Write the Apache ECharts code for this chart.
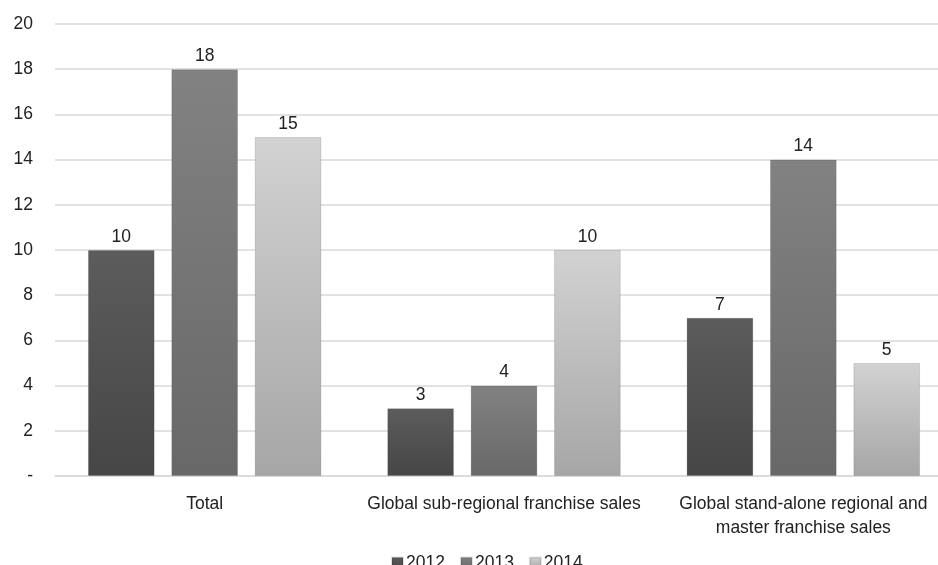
<!DOCTYPE html>
<html>
<head>
<meta charset="utf-8">
<script src="https://cdn.jsdelivr.net/npm/echarts@6/dist/echarts.min.js"></script>
<style>
html,body{margin:0;padding:0;background:#fff;}
#chart{width:938px;height:565px;}
</style>
</head>
<body>
<div id="chart"></div>
<script>
const categories = ["Total", "Global sub-regional franchise sales", "Global stand-alone regional and\nmaster franchise sales"];
const seriesNames = ["2012", "2013", "2014"];
const values2012 = [10, 3, 7];
const values2013 = [18, 4, 14];
const values2014 = [15, 10, 5];

const FONT = "Liberation Sans, Arial, sans-serif";
const FS = 17.5;
const grads = [
  ["#5c5c5c", "#464646"],
  ["#828282", "#686868"],
  ["#d2d2d2", "#a6a6a6"]
];
function grad(c) {
  return new echarts.graphic.LinearGradient(0, 0, 0, 1, [
    {offset: 0, color: c[0]}, {offset: 1, color: c[1]}
  ]);
}
const allValues = [values2012, values2013, values2014];
const series = seriesNames.map((name, i) => ({
  name: name,
  type: 'bar',
  data: allValues[i],
  barGap: '25%',
  barCategoryGap: '22%',
  itemStyle: { color: grad(grads[i]), borderColor: 'rgba(0,0,0,0.12)', borderWidth: 1 },
  label: {
    show: true, position: 'top', distance: 4,
    color: '#222', fontSize: FS, fontFamily: FONT
  }
}));

const chart = echarts.init(document.getElementById('chart'), null, {renderer: 'canvas'});
chart.setOption({
  animation: false,
  backgroundColor: '#fff',
  grid: { left: 55, width: 898, top: 24, height: 452, containLabel: false, outerBoundsMode: 'none' },
  legend: {
    top: 549, left: 386,
    itemWidth: 11, itemHeight: 11, itemGap: 15,
    icon: 'rect',
    textStyle: { color: '#222', fontSize: FS, fontFamily: FONT, padding: [0, 0, 0, -2] },
    data: seriesNames
  },
  xAxis: {
    type: 'category',
    data: categories,
    axisLine: { show: true, lineStyle: { color: '#d9d9d9', width: 1.5 } },
    axisTick: { show: false },
    axisLabel: { color: '#222', fontSize: FS, fontFamily: FONT, margin: 16, lineHeight: 24, interval: 0 }
  },
  yAxis: {
    type: 'value',
    min: 0, max: 20, interval: 2,
    axisLine: { show: false },
    axisTick: { show: false },
    splitLine: { lineStyle: { color: '#d9d9d9', width: 1.5 } },
    axisLabel: {
      color: '#222', fontSize: FS, fontFamily: FONT, margin: 22,
      formatter: v => v === 0 ? '-' : String(v)
    }
  },
  series: series
});
</script>
</body>
</html>
